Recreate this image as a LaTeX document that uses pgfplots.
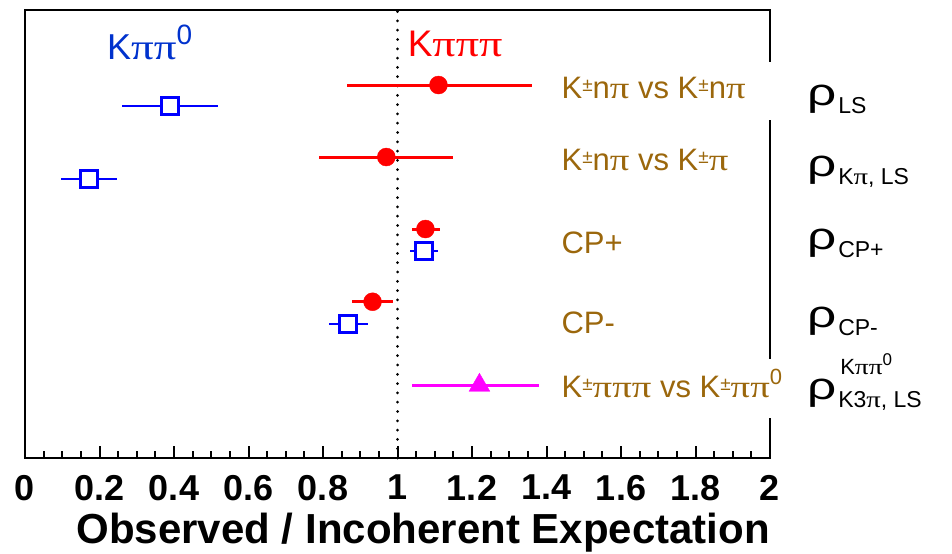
\documentclass[border=0pt]{standalone}
\usepackage{pgfplots}
\usepackage{pgfplotstable}
\pgfplotsset{compat=1.18}
\usepackage{fontspec}
\setmainfont{Liberation Sans}
\newfontfamily\grk{Liberation Serif}

\definecolor{kpipizero}{RGB}{0,50,205}
\definecolor{modebrown}{RGB}{155,103,12}
\definecolor{crossmag}{RGB}{255,0,255}

\newcommand{\p}{{\grk\scalebox{1.25}[1]{π}}}
\newcommand{\fs}[1]{\fontsize{#1}{#1}\selectfont}
\newcommand{\pmup}{\raisebox{7bp}{\fs{19bp}±}}
\newcommand{\rh}{\scalebox{1.35}[1]{ρ}}

% K pi pi pi results
\pgfplotstableread{
x      y     ep     em
1.110  5.18  0.250  0.245
0.970  4.18  0.180  0.180
1.075  3.18  0.038  0.037
0.933  2.17  0.054  0.054
}\kthreepi
% K pi pi0 results
\pgfplotstableread{
x      y      ep     em
0.389  4.89   0.128  0.129
0.172  3.875  0.075  0.075
1.072  2.875  0.037  0.038
0.868  1.86   0.052  0.053
}\kpipizero
% K3pi vs Kpipi0 cross term
\pgfplotstableread{
x      y     ep     em
1.220  1.01  0.160  0.180
}\cross

\begin{document}
\begin{tikzpicture}
\begin{axis}[
  scale only axis, width=745bp, height=448bp,
  xmin=0, xmax=2, ymin=0, ymax=6.222,
  clip=false,
  axis line style={line width=2.6bp},
  ytick=\empty,
  xtick={0,0.2,0.4,0.6,0.8,1,1.2,1.4,1.6,1.8,2},
  xticklabels={0,0.2,0.4,0.6,0.8,1,1.2,1.4,1.6,1.8,2},
  minor x tick num=3,
  xtick pos=left, tick align=inside,
  major tick length=12bp, minor tick length=7bp,
  every tick/.style={black, line width=2bp},
  xticklabel style={font=\fs{36bp}\bfseries, inner sep=0pt, anchor=north, yshift=-17bp},
  xlabel={Observed / Incoherent Expectation},
  xlabel style={at={(axis description cs:1,0)}, anchor=base east, inner sep=0pt,
    yshift=-85bp, font=\fs{42bp}\bfseries},
]
% reference line at unity
\draw[line width=3bp, dash pattern=on 0bp off 9.3bp, line cap=round]
  (axis cs:1,0) -- (axis cs:1,6.222);

\addplot[only marks, color=red, mark=*, mark size=9bp,
  error bars/.cd, x dir=both, x explicit, error mark=none,
  error bar style={line width=3bp, red}]
  table[x=x, y=y, x error plus=ep, x error minus=em] {\kthreepi};

\addplot[only marks, color=blue, mark=square*, mark size=8.5bp,
  mark options={fill=white, draw=blue, line width=2.8bp},
  error bars/.cd, x dir=both, x explicit, error mark=none,
  error bar style={line width=2.4bp, blue}]
  table[x=x, y=y, x error plus=ep, x error minus=em] {\kpipizero};

\addplot[only marks, color=crossmag, mark=triangle*, mark size=12bp,
  error bars/.cd, x dir=both, x explicit, error mark=none,
  error bar style={line width=2.6bp, crossmag}]
  table[x=x, y=y, x error plus=ep, x error minus=em] {\cross};

% gaps in the right frame behind the labels
\fill[white] (axis cs:1.975,5.5) rectangle (axis cs:2.03,4.694);
\fill[white] (axis cs:1.975,1.375) rectangle (axis cs:2.03,0.556);

% channel headers
\node[anchor=base west, inner sep=0pt, text=kpipizero, font=\fs{36bp}]
  at (axis cs:0.220,5.53) {K\p\p\raisebox{15bp}{\fs{28bp}0}};
\node[anchor=base west, inner sep=0pt, text=red, font=\fs{37bp}]
  at (axis cs:1.027,5.57) {K\p\p\p};

% observable descriptions
\begin{scope}[every node/.style={anchor=base west, inner sep=0pt, text=modebrown, font=\fs{31bp}}]
\node at (axis cs:1.44,4.986) {K\pmup n\p\ vs K\pmup n\p};
\node at (axis cs:1.44,3.986) {K\pmup n\p\ vs K\pmup\p};
\node at (axis cs:1.44,2.847) {CP+};
\node at (axis cs:1.44,1.736) {CP-};
\node at (axis cs:1.44,0.847) {K\pmup\p\p\p\ vs K\pmup\p\p\raisebox{13bp}{\fs{22bp}0}};
\end{scope}

% observable names
\begin{scope}[every node/.style={anchor=base west, inner sep=0pt, text=black, font=\fs{38bp}}]
\node at (axis cs:2.099,4.889) {\rh\hspace{2bp}\raisebox{-8bp}{\fs{23bp}LS}};
\node at (axis cs:2.099,3.903) {\rh\hspace{2bp}\raisebox{-8bp}{\fs{23bp}K\p, LS}};
\node at (axis cs:2.099,2.889) {\rh\hspace{2bp}\raisebox{-8bp}{\fs{23bp}CP+}};
\node at (axis cs:2.099,1.819) {\rh\hspace{2bp}\raisebox{-8bp}{\fs{23bp}CP-}};
\node at (axis cs:2.099,0.819) {\rh\hspace{2bp}\raisebox{-8bp}{\fs{23bp}K3\p, LS}};
\node at (axis cs:2.099,0.819) {\phantom{\rh}\hspace{4bp}\raisebox{25bp}{\fs{22bp}K\p\p\raisebox{9bp}{\fs{17bp}0}}};
\end{scope}

\coordinate (llc) at (rel axis cs:0,0);
\coordinate (urc) at (rel axis cs:1,1);
\end{axis}
\pgfresetboundingbox
\path[use as bounding box] ([shift={(-25bp,-96bp)}]llc) rectangle ([shift={(182bp,10bp)}]urc);
\end{tikzpicture}
\end{document}
